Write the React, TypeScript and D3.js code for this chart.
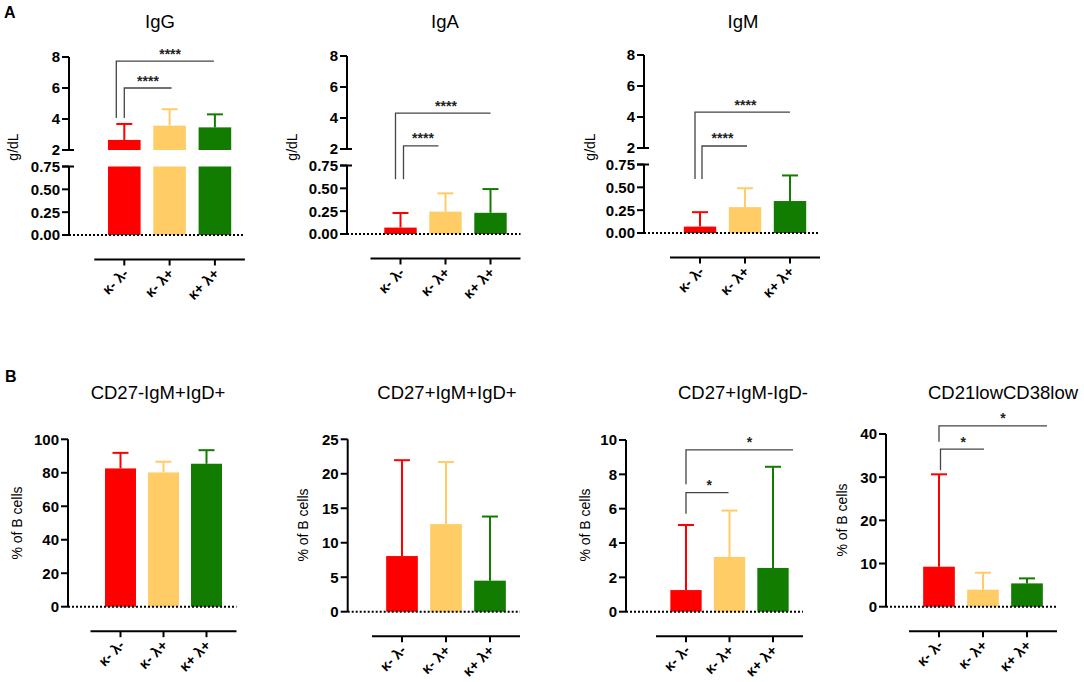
import * as d3 from "d3"

const CATEGORIES = ["κ- λ-", "κ- λ+", "κ+ λ+"]
const COLORS = ["#ff0000", "#ffcc66", "#117c00"]
const FONT = "'Liberation Sans', Arial, sans-serif"

// A: serum immunoglobulins, g/dL (broken axis 0-0.75 / 2-8)
const IGG_MEAN = [2.65, 3.57, 3.46]
const IGG_SD = [1.03, 1.06, 0.84]
const IGA_MEAN = [0.07, 0.245, 0.232]
const IGA_SD = [0.16, 0.2, 0.26]
const IGM_MEAN = [0.07, 0.283, 0.35]
const IGM_SD = [0.158, 0.207, 0.28]
const A_LOWER_TICKS = [0, 0.25, 0.5, 0.75]
const A_UPPER_TICKS = [2, 4, 6, 8]

// B: B cell subsets, % of B cells
const CD27N_MEAN = [82.6, 80.2, 85.4]
const CD27N_SD = [9.3, 6.4, 8.1]
const CD27P_MEAN = [8.07, 12.7, 4.5]
const CD27P_SD = [13.9, 9.0, 9.3]
const SWITCHED_MEAN = [1.26, 3.19, 2.55]
const SWITCHED_SD = [3.79, 2.7, 5.89]
const CD21LOW_MEAN = [9.26, 3.94, 5.4]
const CD21LOW_SD = [21.4, 3.93, 1.16]
const CD27N_TICKS = [0, 20, 40, 60, 80, 100]
const CD27P_TICKS = [0, 5, 10, 15, 20, 25]
const SWITCHED_TICKS = [0, 2, 4, 6, 8, 10]
const CD21LOW_TICKS = [0, 10, 20, 30, 40]

type Sig = { from: number; to: number; top: number; foot: number; label: string }

const IGG_SIG: Sig[] = [
  { from: 0, to: 1, top: 6.0, foot: 4.06, label: "****" },
  { from: 0, to: 2, top: 7.74, foot: 4.06, label: "****" },
]
const IGA_SIG: Sig[] = [
  { from: 0, to: 1, top: 2.2, foot: 0.6, label: "****" },
  { from: 0, to: 2, top: 4.32, foot: 0.6, label: "****" },
]
const IGM_SIG: Sig[] = [
  { from: 0, to: 1, top: 2.13, foot: 0.59, label: "****" },
  { from: 0, to: 2, top: 4.32, foot: 0.59, label: "****" },
]
const SWITCHED_SIG: Sig[] = [
  { from: 0, to: 1, top: 6.94, foot: 5.7, label: "*" },
  { from: 0, to: 2, top: 9.43, foot: 7.43, label: "*" },
]
const CD21LOW_SIG: Sig[] = [
  { from: 0, to: 1, top: 36.5, foot: 31.6, label: "*" },
  { from: 0, to: 2, top: 41.9, foot: 38.2, label: "*" },
]

type Layout = {
  axisX: number
  c0: number
  step: number
  base: number
  titleX: number
  titleY: number
  ylabX: number
  ylabY: number
  sigDx: number[][] // [left, right, label] nudges per bracket
}

type Seg = { v0: number; v1: number; capLow: boolean; capHigh: boolean }

type PanelProps = {
  title: string
  ylabel: string
  means: number[]
  sds: number[]
  sig: Sig[]
  lay: Layout
  y: (v: number) => number
  segs: Seg[]
  ticks: number[]
  fmt: (v: number) => string
}

function Panel({ title, ylabel, means, sds, sig, lay, y, segs, ticks, fmt }: PanelProps) {
  const x = d3
    .scaleBand<string>()
    .domain(CATEGORIES)
    .range([lay.c0 - lay.step / 2, lay.c0 + lay.step * 2.5])
    .paddingInner(0.28)
    .paddingOuter(0.14)
  const bw = x.bandwidth()
  const cx = (i: number) => (x(CATEGORIES[i]) ?? 0) + bw / 2
  const xStart = cx(0) - 30
  const xEnd = cx(2) + 30
  const xAxisY = lay.base + 24.5
  const ax = lay.axisX

  return (
    <g fontFamily={FONT}>
      <text x={lay.titleX} y={lay.titleY} textAnchor="middle" fontSize={18.5}>
        {title}
      </text>
      <text
        transform={`translate(${lay.ylabX},${lay.ylabY}) rotate(-90)`}
        textAnchor="middle"
        dy="0.35em"
        fontSize={14}
      >
        {ylabel}
      </text>

      {/* bars, one rect per axis segment */}
      {means.map((m, i) =>
        segs
          .filter((s) => m > s.v0)
          .map((s, k) => {
            const yTop = y(Math.min(m, s.v1))
            const yBot = y(s.v0)
            return (
              <rect
                key={`${i}-${k}`}
                x={x(CATEGORIES[i])}
                y={yTop}
                width={bw}
                height={yBot - yTop}
                fill={COLORS[i]}
              />
            )
          })
      )}

      {/* upper error bars */}
      {means.map((m, i) => {
        const yT = y(m + sds[i])
        return (
          <g key={`e${i}`} stroke={COLORS[i]} strokeWidth={2}>
            <line x1={cx(i)} x2={cx(i)} y1={y(m)} y2={yT} />
            <line x1={cx(i) - 8} x2={cx(i) + 8} y1={yT} y2={yT} />
          </g>
        )
      })}

      <line x1={ax} x2={xEnd} y1={y(0)} y2={y(0)} stroke="#000" strokeWidth={2} strokeDasharray="2 2" />

      {/* y axis */}
      {segs.map((s, k) => (
        <g key={`s${k}`} stroke="#000" strokeWidth={2}>
          <line x1={ax} x2={ax} y1={y(s.v0)} y2={y(s.v1)} />
          {s.capLow && <line x1={ax - 7} x2={ax + 5} y1={y(s.v0)} y2={y(s.v0)} />}
          {s.capHigh && <line x1={ax - 7} x2={ax + 5} y1={y(s.v1)} y2={y(s.v1)} />}
        </g>
      ))}
      {ticks.map((t) => (
        <g key={`t${t}`}>
          <line x1={ax - 7} x2={ax} y1={y(t)} y2={y(t)} stroke="#000" strokeWidth={2} />
          <text x={ax - 9} y={y(t)} dy="0.36em" textAnchor="end" fontSize={15} fontWeight="bold">
            {fmt(t)}
          </text>
        </g>
      ))}

      {/* detached x axis */}
      <line x1={xStart} x2={xEnd} y1={xAxisY} y2={xAxisY} stroke="#000" strokeWidth={2} />
      {CATEGORIES.map((c, i) => (
        <g key={c}>
          <line x1={cx(i)} x2={cx(i)} y1={xAxisY} y2={xAxisY + 6} stroke="#000" strokeWidth={2} />
          <text
            transform={`translate(${cx(i) + 5},${xAxisY + 15}) rotate(-45)`}
            textAnchor="end"
            fontSize={14.5}
            fontWeight="bold"
          >
            {c}
          </text>
        </g>
      ))}

      {/* significance brackets */}
      {sig.map((s, k) => {
        const d = lay.sigDx[k]
        const xl = cx(s.from) + d[0]
        const xr = cx(s.to) + d[1]
        const yt = y(s.top)
        return (
          <g key={`b${k}`}>
            <path d={`M${xl},${y(s.foot)}V${yt}H${xr}`} fill="none" stroke="#444" strokeWidth={1.3} />
            <text x={(xl + xr) / 2 + d[2]} y={yt - 2.5} textAnchor="middle" fontSize={14} fontWeight="bold" fill="#222">
              {s.label}
            </text>
          </g>
        )
      })}
    </g>
  )
}

function brokenY(base: number) {
  const lower = d3.scaleLinear().domain([0, 0.75]).range([base, base - 68.5])
  const upper = d3.scaleLinear().domain([2, 8]).range([base - 85, base - 178])
  return (v: number) => (v <= 0.75 ? lower(v) : upper(v))
}

const A_SEGS: Seg[] = [
  { v0: 0, v1: 0.75, capLow: false, capHigh: true },
  { v0: 2, v1: 8, capLow: true, capHigh: false },
]

const fmt2 = d3.format(".2f")
const fmtA = (v: number) => (v < 1 ? fmt2(v) : String(v))
const fmtInt = (v: number) => String(v)

export default function App() {
  const bScale = (max: number, base: number, top: number) => {
    const s = d3.scaleLinear().domain([0, max]).range([base, top])
    return (v: number) => s(v)
  }
  return (
    <svg
      width={1084}
      height={682}
      viewBox="0 0 1084 682"
      style={{ position: "absolute", left: 0, top: 0, background: "#fff" }}
    >
      <text x={4} y={18} fontFamily={FONT} fontSize={16} fontWeight="bold">A</text>
      <text x={5} y={382} fontFamily={FONT} fontSize={16} fontWeight="bold">B</text>

      <Panel
        title="IgG" ylabel="g/dL" means={IGG_MEAN} sds={IGG_SD} sig={IGG_SIG}
        lay={{ axisX: 69, c0: 124.3, step: 45.3, base: 235, titleX: 160, titleY: 28, ylabX: 13, ylabY: 147,
          sigDx: [[0, 2, 0], [-8, -1, 5]] }}
        y={brokenY(235)} segs={A_SEGS} ticks={[...A_LOWER_TICKS, ...A_UPPER_TICKS]} fmt={fmtA}
      />
      <Panel
        title="IgA" ylabel="g/dL" means={IGA_MEAN} sds={IGA_SD} sig={IGA_SIG}
        lay={{ axisX: 347, c0: 400.5, step: 45, base: 234, titleX: 445, titleY: 28, ylabX: 292, ylabY: 147,
          sigDx: [[3, -7, 2], [-5, 0, 3]] }}
        y={brokenY(234)} segs={A_SEGS} ticks={[...A_LOWER_TICKS, ...A_UPPER_TICKS]} fmt={fmtA}
      />
      <Panel
        title="IgM" ylabel="g/dL" means={IGM_MEAN} sds={IGM_SD} sig={IGM_SIG}
        lay={{ axisX: 644, c0: 700, step: 45, base: 233, titleX: 743, titleY: 28, ylabX: 590, ylabY: 147,
          sigDx: [[2, 2, -2], [-5, 0, 3]] }}
        y={brokenY(233)} segs={A_SEGS} ticks={[...A_LOWER_TICKS, ...A_UPPER_TICKS]} fmt={fmtA}
      />

      <Panel
        title="CD27-IgM+IgD+" ylabel="% of B cells" means={CD27N_MEAN} sds={CD27N_SD} sig={[]}
        lay={{ axisX: 68, c0: 120.5, step: 43, base: 606.7, titleX: 158, titleY: 399, ylabX: 17, ylabY: 523, sigDx: [] }}
        y={bScale(100, 606.7, 439.3)} segs={[{ v0: 0, v1: 100, capLow: false, capHigh: false }]}
        ticks={CD27N_TICKS} fmt={fmtInt}
      />
      <Panel
        title="CD27+IgM+IgD+" ylabel="% of B cells" means={CD27P_MEAN} sds={CD27P_SD} sig={[]}
        lay={{ axisX: 347.7, c0: 402, step: 44, base: 611.7, titleX: 447, titleY: 399, ylabX: 303, ylabY: 525, sigDx: [] }}
        y={bScale(25, 611.7, 439.3)} segs={[{ v0: 0, v1: 25, capLow: false, capHigh: false }]}
        ticks={CD27P_TICKS} fmt={fmtInt}
      />
      <Panel
        title="CD27+IgM-IgD-" ylabel="% of B cells" means={SWITCHED_MEAN} sds={SWITCHED_SD} sig={SWITCHED_SIG}
        lay={{ axisX: 626, c0: 686, step: 43.5, base: 611.7, titleX: 743, titleY: 399, ylabX: 585, ylabY: 525,
          sigDx: [[0, -1, 2], [0, 20, 10]] }}
        y={bScale(10, 611.7, 440)} segs={[{ v0: 0, v1: 10, capLow: false, capHigh: false }]}
        ticks={SWITCHED_TICKS} fmt={fmtInt}
      />
      <Panel
        title="CD21lowCD38low" ylabel="% of B cells" means={CD21LOW_MEAN} sds={CD21LOW_SD} sig={CD21LOW_SIG}
        lay={{ axisX: 886, c0: 939, step: 44, base: 606.7, titleX: 1003, titleY: 399, ylabX: 842, ylabY: 520,
          sigDx: [[1.5, 1, 1], [0, 20, 10]] }}
        y={bScale(40, 606.7, 434)} segs={[{ v0: 0, v1: 40, capLow: false, capHigh: false }]}
        ticks={CD21LOW_TICKS} fmt={fmtInt}
      />
    </svg>
  )
}
